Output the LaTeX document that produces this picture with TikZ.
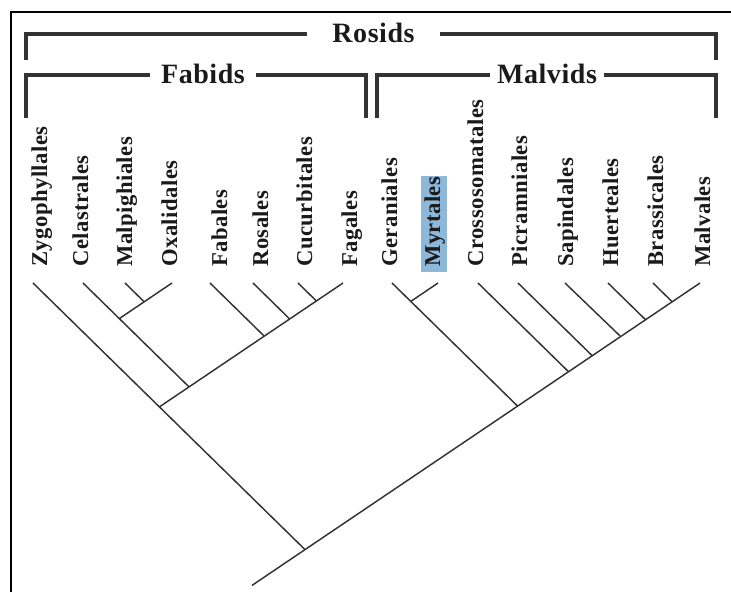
\documentclass[tikz,border=0pt]{standalone}
\usepackage{fontspec}
\setmainfont{Liberation Serif}
\newfontfamily\spacedserif[LetterSpace=2]{Liberation Serif}
\definecolor{ink}{HTML}{1A1A1A}
\definecolor{branch}{HTML}{333333}
\definecolor{hl}{HTML}{8DB8DA}
\tikzset{
  frame/.style={draw=black, line width=1.5pt},
  bracket/.style={draw=branch, line width=3pt, line join=miter},
  branchline/.style={draw=branch, line width=1.1pt},
  leaf/.style={rotate=90, anchor=base west, inner sep=0pt, text=ink,
    font=\spacedserif\bfseries\fontsize{17}{20}\selectfont},
  grp/.style={anchor=base, inner ysep=0pt, text=ink,
    font=\spacedserif\bfseries\fontsize{21}{24}\selectfont},
}
\begin{document}
\begin{tikzpicture}[x=0.75pt, y=-0.75pt]
\useasboundingbox (0,0) rectangle (731,592);

% outer frame (top and left edges only)
\draw[frame] (11,592) -- (11,12) -- (731,12);

% clade brackets
\coordinate (rosTL) at (26,34);   \coordinate (rosTR) at (716,34);
\coordinate (rosBL) at (26,60);   \coordinate (rosBR) at (716,60);
\coordinate (fabTL) at (26,75);   \coordinate (fabTR) at (366,75);
\coordinate (fabBL) at (26,118);  \coordinate (fabBR) at (366,118);
\coordinate (malTL) at (377,75);  \coordinate (malTR) at (716,75);
\coordinate (malBL) at (377,118); \coordinate (malBR) at (716,118);

\node[grp, inner xsep=19pt] (rosids)  at (373.5,43) {Rosids};
\node[grp, inner xsep=8pt]  (fabids)  at (203,84)   {Fabids};
\node[grp, inner xsep=5pt]  (malvids) at (547,84)   {Malvids};

\draw[bracket] (rosBL) -- (rosTL) -- (rosids.west |- rosTL);
\draw[bracket] (rosids.east |- rosTR) -- (rosTR) -- (rosBR);
\draw[bracket] (fabBL) -- (fabTL) -- (fabids.west |- fabTL);
\draw[bracket] (fabids.east |- fabTR) -- (fabTR) -- (fabBR);
\draw[bracket] (malBL) -- (malTL) -- (malvids.west |- malTL);
\draw[bracket] (malvids.east |- malTR) -- (malTR) -- (malBR);

% highlight behind Myrtales
\fill[hl] (421,176) rectangle (447,272);

% order names
\foreach \n/\x/\t in {
  zyg/47/Zygophyllales, cel/88/Celastrales, mlp/132/Malpighiales,
  oxa/177/Oxalidales, fbl/227/Fabales, ros/268/Rosales,
  cuc/312/Cucurbitales, fag/357/Fagales, ger/397/Geraniales,
  myr/440/Myrtales, cro/483/Crossosomatales, pic/527/Picramniales,
  sap/573/Sapindales, hue/618/Huerteales, bra/663/Brassicales,
  mlv/710/Malvales}
  \node[leaf] (\n) at (\x,267) {\t};

% branch tips
\coordinate (tZyg) at (33,283);  \coordinate (tCel) at (83,283);
\coordinate (tMlp) at (125,283); \coordinate (tOxa) at (172,283);
\coordinate (tFbl) at (210,283); \coordinate (tRos) at (253,283);
\coordinate (tCuc) at (298,283); \coordinate (tFag) at (343,283);
\coordinate (tGer) at (392,283); \coordinate (tMyr) at (438,283);
\coordinate (tCro) at (478,283); \coordinate (tPic) at (518,283);
\coordinate (tSap) at (565,283); \coordinate (tHue) at (608,283);
\coordinate (tBra) at (653,283); \coordinate (tMlv) at (700,283);

% internal nodes
\coordinate (jMlpOxa) at (144.2,301.8);
\coordinate (jCelOxa) at (119.3,318.6);
\coordinate (jCelFag) at (189.0,386.9);
\coordinate (jFabids) at (159.4,406.9);
\coordinate (jCucFag) at (316.3,300.9);
\coordinate (jRosFag) at (289.7,319.0);
\coordinate (jFblFag) at (264.2,336.1);
\coordinate (jGerMyr) at (410.8,301.4);
\coordinate (jMalvids) at (517.6,406.1);
\coordinate (jCroMlv) at (568.5,371.7);
\coordinate (jPicMlv) at (592.2,355.7);
\coordinate (jSapMlv) at (620.1,336.0);
\coordinate (jHueMlv) at (645.5,319.7);
\coordinate (jBraMlv) at (672.2,301.8);
\coordinate (root) at (305.0,549.6);
\coordinate (stem) at (252,585.4);

% Fabids
\draw[branchline] (tZyg) -- (jFabids) -- (root);
\draw[branchline] (tFag) -- (jFabids);
\draw[branchline] (tCel) -- (jCelFag);
\draw[branchline] (tOxa) -- (jCelOxa);
\draw[branchline] (tMlp) -- (jMlpOxa);
\draw[branchline] (tFbl) -- (jFblFag);
\draw[branchline] (tRos) -- (jRosFag);
\draw[branchline] (tCuc) -- (jCucFag);

% Malvids
\draw[branchline] (tMlv) -- (jMalvids) -- (root) -- (stem);
\draw[branchline] (tGer) -- (jMalvids);
\draw[branchline] (tMyr) -- (jGerMyr);
\draw[branchline] (tCro) -- (jCroMlv);
\draw[branchline] (tPic) -- (jPicMlv);
\draw[branchline] (tSap) -- (jSapMlv);
\draw[branchline] (tHue) -- (jHueMlv);
\draw[branchline] (tBra) -- (jBraMlv);
\end{tikzpicture}
\end{document}
